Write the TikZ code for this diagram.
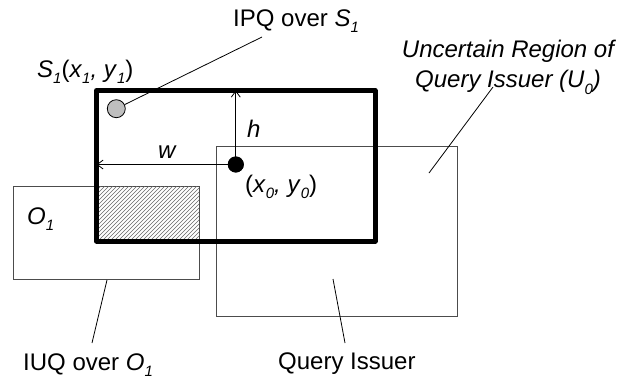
\documentclass[tikz,border=0pt]{standalone}
\usepackage{fontspec}
\setmainfont{Liberation Sans}
\usetikzlibrary{arrows.meta}
\newcommand\lsub[1]{\raisebox{-0.28em}{\fontsize{15}{15}\selectfont #1}}
\tikzset{
  lbl/.style={inner sep=0pt, anchor=base west, font=\fontsize{24}{28}\selectfont},
  thinrect/.style={draw=black!70, line width=1pt},
  conn/.style={draw=black, line width=0.8pt},
  dim/.style={draw=black, line width=0.8pt, {Straight Barb[length=6pt,width=9pt]}-{Straight Barb[length=6pt,width=9pt]}}
}
\begin{document}
\begin{tikzpicture}[x=1pt,y=-1pt]
\useasboundingbox (0,0) rectangle (631,381);
% thin rectangles
\draw[thinrect] (216.7,146.7) rectangle (457.7,316) coordinate (Ucorner);
\draw[thinrect] (13.7,186.7) rectangle (199,279) coordinate (Ocorner);
% hatch
\begin{scope}
\clip (96.5,186.7) rectangle (199,241);
\foreach \x in {30,34,...,260} {
  \draw[black!60, line width=0.6pt] (\x,245) -- ++(70,-70);
}
\end{scope}
% thick rectangle
\draw[line width=5pt, line join=round] (96.5,90.5) rectangle (375,241);
% dimension points
\coordinate (topH) at (235.8,90.5);
\coordinate (leftW) at (96.5,164.5);
\node[circle, fill=black, minimum size=16pt, inner sep=0pt] (q) at (235.8,164.5) {};
\draw[dim] (q.center) -- (topH);
\draw[dim] (q.center) -- (leftW);
\node[circle, fill=black, minimum size=16pt, inner sep=0pt] (q2) at (235.8,164.5) {};
\node[circle, draw=black, line width=0.8pt, fill=black!25, minimum size=18pt, inner sep=0pt] (s1) at (116.3,108.7) {};
% labels
\node[lbl] (h) at (247,137) {\textit{h}};
\node[lbl] (w) at (158,158) {\textit{w}};
\node[lbl] (xy0) at (245,192) {(\textit{x}\lsub{\textit{0}}\textit{, y}\lsub{\textit{0}})};
\node[lbl] (s1l) at (37,77) {\textit{S}\lsub{\textit{1}}(\textit{x}\lsub{\textit{1}}\textit{, y}\lsub{\textit{1}})};
\node[lbl] (ipq) at (233,26) {IPQ over \textit{S}\lsub{\textit{1}}};
\node[lbl] (o1) at (27,224) {\textit{O}\lsub{\textit{1}}};
\node[lbl] (iuq) at (23,370) {IUQ over \textit{O}\lsub{\textit{1}}};
\node[lbl] (qi) at (278,369) {Query Issuer};
\node[inner sep=0pt, align=center, font=\fontsize{24}{30}\selectfont\itshape, anchor=north] (unc) at (508,40) {Uncertain Region of\\Query Issuer (U\lsub{0})};
% connectors
\coordinate (ipqA) at (262,37);
\draw[conn] (ipqA) -- (s1);
\coordinate (uncA) at (493,87);
\coordinate (uncB) at (429,173);
\draw[conn] (uncA) -- (uncB);
\coordinate (iuqA) at (107,280);
\coordinate (iuqB) at (92,343);
\draw[conn] (iuqA) -- (iuqB);
\coordinate (qiA) at (333,279);
\coordinate (qiB) at (345,343);
\draw[conn] (qiA) -- (qiB);
\end{tikzpicture}
\end{document}
